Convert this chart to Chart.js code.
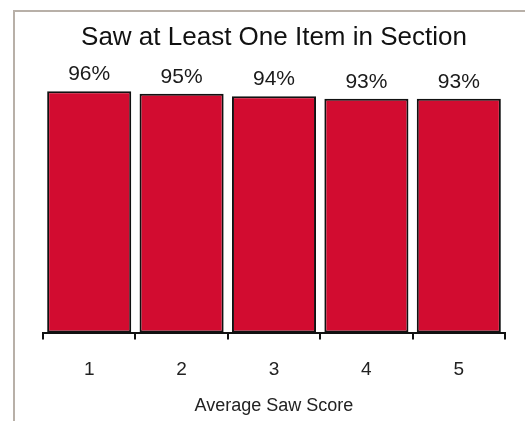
<!DOCTYPE html>
<html>
<head>
<meta charset="utf-8">
<style>
  html, body { margin: 0; padding: 0; background: #fff; }
  #wrap { width: 525px; height: 421px; position: relative; }
</style>
<script src="https://cdn.jsdelivr.net/npm/chart.js@4"></script>
</head>
<body>
<div id="wrap"><canvas id="grafico" width="525" height="421"></canvas></div>
<script>
// dados
const categorias = ["1", "2", "3", "4", "5"];
const valores = [96, 95, 94, 93, 93];
const rotulos = ["96%", "95%", "94%", "93%", "93%"];

const fonte = "'Liberation Sans', Arial, sans-serif";

// moldura cinza (só topo e esquerda aparecem)
const moldura = {
    id: "moldura",
    beforeDraw(chart) {
        const c = chart.ctx;
        c.save();
        c.fillStyle = "#fff";
        c.fillRect(0, 0, chart.width, chart.height);
        c.strokeStyle = "#b8b0a8";
        c.lineWidth = 2;
        c.beginPath();
        c.moveTo(14, chart.height);
        c.lineTo(14, 11);
        c.lineTo(chart.width, 11);
        c.stroke();
        c.restore();
    }
};

// percentuais acima das barras
const rotulosBarras = {
    id: "rotulosBarras",
    afterDatasetsDraw(chart) {
        const c = chart.ctx;
        const meta = chart.getDatasetMeta(0);
        c.save();
        c.font = "21px " + fonte;
        c.fillStyle = "#1a1a1a";
        c.textAlign = "center";
        c.textBaseline = "alphabetic";
        meta.data.forEach((bar, i) => {
            c.fillText(rotulos[i], bar.x, bar.y - 11);
        });
        c.restore();
    }
};

new Chart(document.getElementById("grafico"), {
    type: "bar",
    data: {
        labels: categorias,
        datasets: [{
            data: valores,
            backgroundColor: "#d20c30",
            borderColor: "#111",
            borderWidth: 2,
            borderSkipped: false,
            categoryPercentage: 1,
            barPercentage: 0.91
        }]
    },
    options: {
        responsive: false,
        animation: false,
        layout: { padding: { left: 43, right: 20, top: 0, bottom: 4 } },
        plugins: {
            legend: { display: false },
            tooltip: { enabled: false },
            title: {
                display: true,
                text: "Saw at Least One Item in Section",
                color: "#111",
                font: { family: fonte, size: 26, weight: "normal" },
                padding: { top: 22, bottom: 28 }
            }
        },
        scales: {
            y: { display: false, min: 0, max: 100 },
            x: {
                border: { display: true, color: "#111", width: 2 },
                grid: {
                    display: true,
                    offset: true,
                    drawOnChartArea: false,
                    drawTicks: true,
                    tickLength: 7,
                    color: "#111",
                    lineWidth: 2
                },
                ticks: {
                    color: "#222",
                    padding: 19,
                    font: { family: fonte, size: 19 }
                },
                title: {
                    display: true,
                    text: "Average Saw Score",
                    color: "#222",
                    padding: { top: -5, bottom: 0 },
                    font: { family: fonte, size: 18 }
                }
            }
        }
    },
    plugins: [moldura, rotulosBarras]
});
</script>
</body>
</html>
